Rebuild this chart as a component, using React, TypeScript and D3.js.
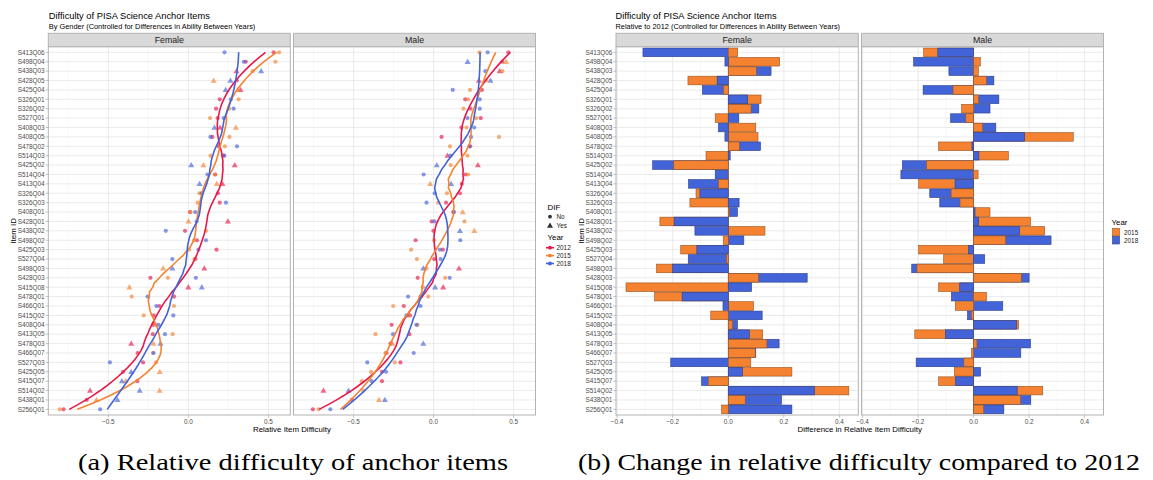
import React from "react";
import * as d3 from "d3";

// ---------------- DATA ----------------
const items = ["S413Q06","S498Q04","S438Q03","S428Q05","S425Q04","S326Q01","S326Q02","S527Q01","S408Q03","S408Q05","S478Q02","S514Q03","S425Q02","S514Q04","S413Q04","S326Q04","S326Q03","S408Q01","S428Q01","S438Q02","S498Q02","S425Q03","S527Q04","S498Q03","S428Q03","S415Q08","S478Q01","S466Q01","S415Q02","S408Q04","S413Q05","S478Q03","S466Q07","S527Q03","S425Q05","S415Q07","S514Q02","S438Q01","S256Q01"];
const genders = ["Female", "Male"];
const years = ["2012", "2015", "2018"];
const diffYears = ["2015", "2018"];

// Relative item difficulty in 2012
const female2012 = [0.533,0.359,0.301,0.303,0.326,0.196,0.173,0.183,0.198,0.150,0.188,0.218,0.290,0.167,0.213,0.185,0.196,0.010,0.247,-0.021,0.054,0.176,0.044,0.100,-0.237,0.0,-0.089,-0.181,-0.216,-0.220,-0.222,-0.357,-0.317,-0.283,-0.408,-0.319,-0.614,-0.635,-0.780];
const male2012 = [0.467,0.429,0.413,0.283,0.302,0.198,0.230,0.295,0.174,0.050,0.229,0.087,0.277,0.200,0.177,0.165,0.078,0.123,-0.012,-0.001,-0.112,0.058,0.004,0.159,-0.099,0.060,-0.079,-0.186,-0.147,-0.262,-0.151,-0.269,-0.294,-0.207,-0.322,-0.322,-0.688,-0.510,-0.754];

// Change relative to 2012
const femaleDiff2015 = [0.034,0.185,0.101,-0.145,-0.017,0.118,0.082,-0.047,0.099,0.107,0.040,-0.080,-0.196,0.001,-0.035,-0.116,-0.138,0.004,-0.246,0.132,-0.018,-0.171,-0.006,-0.258,0.109,-0.368,-0.265,0.091,-0.063,0.015,0.124,0.139,0.097,0.081,0.229,-0.072,0.434,0.061,-0.024];
const femaleDiff2018 = [-0.307,-0.012,0.154,-0.040,-0.093,0.070,0.110,0.038,-0.035,-0.012,0.116,0.007,-0.272,-0.047,-0.143,-0.102,0.039,0.033,-0.195,-0.120,0.056,-0.113,-0.144,-0.200,0.284,0.084,-0.166,-0.019,0.122,0.033,0.076,0.183,0.099,-0.207,0.051,-0.096,0.310,0.192,0.229];
const maleDiff2015 = [-0.180,0.024,0.017,0.046,-0.074,0.018,-0.043,-0.028,0.032,0.359,-0.126,0.125,-0.170,0.016,-0.198,-0.081,-0.049,0.059,0.205,0.256,0.115,-0.198,-0.108,-0.204,0.172,-0.126,0.046,-0.066,-0.008,0.162,-0.212,0.012,-0.007,-0.035,-0.069,-0.126,0.249,0.169,0.036];
const maleDiff2018 = [-0.129,-0.216,-0.089,0.073,-0.182,0.091,0.059,-0.083,0.080,0.184,-0.006,0.019,-0.257,-0.262,-0.067,-0.158,-0.122,0.005,0.018,0.166,0.279,-0.018,0.040,-0.223,0.200,-0.050,-0.080,0.105,-0.022,0.155,-0.102,0.205,0.170,-0.207,0.025,-0.065,0.157,0.206,0.109];

// Items flagged with DIF (triangles)
const femaleDif2012 = ["S438Q03","S425Q04","S408Q03","S425Q02","S413Q04","S428Q01","S498Q03","S415Q08","S478Q03","S514Q02"];
const femaleDif2015 = ["S428Q05","S425Q04","S408Q03","S425Q02","S413Q04","S428Q01","S498Q03","S415Q08","S478Q03","S425Q05","S415Q07","S514Q02","S438Q01"];
const femaleDif2018 = ["S438Q03","S428Q05","S425Q04","S408Q03","S425Q02","S413Q04","S498Q03","S415Q08","S478Q03","S425Q05","S415Q07","S514Q02","S438Q01"];
const maleDif2012 = ["S438Q03","S428Q05","S514Q03","S425Q02","S498Q03","S415Q08","S514Q02"];
const maleDif2015 = ["S498Q04","S413Q04","S408Q01","S438Q02","S478Q03","S438Q01"];
const maleDif2018 = ["S498Q04","S428Q05","S425Q02","S413Q04","S438Q02","S498Q03","S415Q08","S478Q03","S438Q01","S514Q02"];

const leftTicks = [-0.5, 0.0, 0.5];
const leftMinor = [-0.75, -0.25, 0.25];
const rightTicks = [-0.4, -0.2, 0.0, 0.2, 0.4];
const rightMinor = [-0.3, -0.1, 0.1, 0.3];

const yearColors: Record<string, string> = { "2012": "#E6194B", "2015": "#F58231", "2018": "#4363D8" };

// ---------------- HELPERS ----------------
const baseByGender: Record<string, number[]> = { Female: female2012, Male: male2012 };
const diffByGender: Record<string, Record<string, number[]>> = {
  Female: { "2015": femaleDiff2015, "2018": femaleDiff2018 },
  Male: { "2015": maleDiff2015, "2018": maleDiff2018 },
};
const difByGender: Record<string, Record<string, string[]>> = {
  Female: { "2012": femaleDif2012, "2015": femaleDif2015, "2018": femaleDif2018 },
  Male: { "2012": maleDif2012, "2015": maleDif2015, "2018": maleDif2018 },
};

function valuesFor(g: string, y: string): number[] {
  const base = baseByGender[g];
  if (y === "2012") return base;
  const d = diffByGender[g][y];
  return base.map((b, i) => b + d[i]);
}

function loess(xs: number[], ys: number[], at: number[], span: number): number[] {
  const n = xs.length;
  const q = Math.floor(n * span);
  return at.map((x0) => {
    const d = xs.map((x) => Math.abs(x - x0));
    const h = [...d].sort((a, b) => a - b)[q - 1] * 1.0000001;
    const S = [0, 0, 0, 0, 0];
    const T = [0, 0, 0];
    for (let i = 0; i < n; i++) {
      const u = d[i] / h;
      if (u >= 1) continue;
      const w = Math.pow(1 - u * u * u, 3);
      const t = xs[i] - x0;
      let p = 1;
      for (let k = 0; k < 5; k++) {
        S[k] += w * p;
        if (k < 3) T[k] += w * p * ys[i];
        p *= t;
      }
    }
    const det = (m: number[][]) =>
      m[0][0] * (m[1][1] * m[2][2] - m[1][2] * m[2][1]) -
      m[0][1] * (m[1][0] * m[2][2] - m[1][2] * m[2][0]) +
      m[0][2] * (m[1][0] * m[2][1] - m[1][1] * m[2][0]);
    const A = [[S[0], S[1], S[2]], [S[1], S[2], S[3]], [S[2], S[3], S[4]]];
    const A0 = [[T[0], S[1], S[2]], [T[1], S[2], S[3]], [T[2], S[3], S[4]]];
    return det(A0) / det(A);
  });
}

// ---------------- LAYOUT ----------------
const FONT = "'Liberation Sans', Arial, Helvetica, sans-serif";
const SPAN = 0.42;
const Y_TOP = 46.7;
const Y_BOT = 415;
const STRIP_TOP = 33.3;
const yPos = d3.scalePoint<string>().domain(items).range([Y_TOP, Y_BOT]).padding(0.6);
const step = yPos.step();
const levelY = d3
  .scaleLinear()
  .domain([items.length, 1])
  .range([yPos(items[0]) as number, yPos(items[items.length - 1]) as number]);

const leftPanels = [
  { g: "Female", x0: 48.3, x1: 290.3 },
  { g: "Male", x0: 293.5, x1: 535.5 },
];
const rightPanels = [
  { g: "Female", x0: 616, x1: 858.3 },
  { g: "Male", x0: 861.5, x1: 1103.5 },
];
const LEFT_DOMAIN: [number, number] = [-0.875, 0.637];
const RIGHT_DOMAIN: [number, number] = [-0.404, 0.468];

const GRID = "#e3e3e3";
const GRID_MINOR = "#f0f0f0";
const BORDER = "#b3b3b3";
const TICK_TXT = "#4d4d4d";

function Strip({ x0, x1, label }: { x0: number; x1: number; label: string }) {
  return (
    <g>
      <rect x={x0} y={STRIP_TOP} width={x1 - x0} height={Y_TOP - STRIP_TOP} fill="#d9d9d9" stroke={BORDER} strokeWidth={1} />
      <text x={(x0 + x1) / 2} y={(STRIP_TOP + Y_TOP) / 2 + 3.1} textAnchor="middle" fontSize={8.8} fill="#1a1a1a" fontFamily={FONT}>
        {label}
      </text>
    </g>
  );
}

function PanelFrame({ x0, x1, major, minor, xs }: { x0: number; x1: number; major: number[]; minor: number[]; xs: d3.ScaleLinear<number, number> }) {
  return (
    <g>
      <rect x={x0} y={Y_TOP} width={x1 - x0} height={Y_BOT - Y_TOP} fill="#ffffff" />
      {minor.map((v) => (
        <line key={"mn" + v} x1={xs(v)} x2={xs(v)} y1={Y_TOP} y2={Y_BOT} stroke={GRID_MINOR} strokeWidth={0.5} />
      ))}
      {major.map((v) => (
        <line key={"mj" + v} x1={xs(v)} x2={xs(v)} y1={Y_TOP} y2={Y_BOT} stroke={GRID} strokeWidth={0.7} />
      ))}
      {items.map((it) => (
        <line key={"h" + it} x1={x0} x2={x1} y1={yPos(it)} y2={yPos(it)} stroke={GRID} strokeWidth={0.7} />
      ))}
    </g>
  );
}

function XAxis({ xs, ticks }: { xs: d3.ScaleLinear<number, number>; ticks: number[] }) {
  return (
    <g>
      {ticks.map((v) => (
        <g key={"xt" + v}>
          <line x1={xs(v)} x2={xs(v)} y1={Y_BOT} y2={Y_BOT + 2.7} stroke={BORDER} strokeWidth={0.8} />
          <text x={xs(v)} y={Y_BOT + 9.3} textAnchor="middle" fontSize={6.4} fill={TICK_TXT} fontFamily={FONT}>
            {d3.format(".1f")(v)}
          </text>
        </g>
      ))}
    </g>
  );
}

function YAxis({ x }: { x: number }) {
  return (
    <g>
      {items.map((it) => (
        <g key={"yt" + it}>
          <line x1={x - 2.7} x2={x} y1={yPos(it)} y2={yPos(it)} stroke={BORDER} strokeWidth={0.8} />
          <text x={x - 3.6} y={(yPos(it) as number) + 2.3} textAnchor="end" fontSize={6.4} fill={TICK_TXT} fontFamily={FONT}>
            {it}
          </text>
        </g>
      ))}
    </g>
  );
}

const triPath = d3.symbol().type(d3.symbolTriangle).size(16)() as string;

function LeftPanel({ g, x0, x1 }: { g: string; x0: number; x1: number }) {
  const xs = d3.scaleLinear().domain(LEFT_DOMAIN).range([x0, x1]);
  const levels = items.map((_, i) => items.length - i);
  const evalAt = d3.range(80).map((k) => 1 + (k * (items.length - 1)) / 79);
  const line = d3
    .line<[number, number]>()
    .x((d) => xs(d[1]))
    .y((d) => levelY(d[0]))
    .curve(d3.curveLinear);
  return (
    <g>
      <PanelFrame x0={x0} x1={x1} major={leftTicks} minor={leftMinor} xs={xs} />
      {years.map((y) => {
        const vals = valuesFor(g, y);
        const dif = new Set(difByGender[g][y]);
        return (
          <g key={"pts" + y} fill={yearColors[y]} fillOpacity={0.65}>
            {items.map((it, i) =>
              dif.has(it) ? (
                <path key={it} d={triPath} transform={`translate(${xs(vals[i])},${(yPos(it) as number) + 0.4})`} />
              ) : (
                <circle key={it} cx={xs(vals[i])} cy={yPos(it)} r={2.1} />
              )
            )}
          </g>
        );
      })}
      {years.map((y) => {
        const vals = valuesFor(g, y);
        const fit = loess(levels, vals, evalAt, SPAN);
        const pts = evalAt.map((l, k) => [l, fit[k]] as [number, number]);
        return <path key={"ln" + y} d={line(pts) as string} fill="none" stroke={yearColors[y]} strokeWidth={1.6} />;
      })}
      <rect x={x0} y={Y_TOP} width={x1 - x0} height={Y_BOT - Y_TOP} fill="none" stroke={BORDER} strokeWidth={1} />
      <Strip x0={x0} x1={x1} label={g} />
      <XAxis xs={xs} ticks={leftTicks} />
    </g>
  );
}

function RightPanel({ g, x0, x1 }: { g: string; x0: number; x1: number }) {
  const xs = d3.scaleLinear().domain(RIGHT_DOMAIN).range([x0, x1]);
  const bh = step * 0.92;
  return (
    <g>
      <PanelFrame x0={x0} x1={x1} major={rightTicks} minor={rightMinor} xs={xs} />
      {items.map((it, i) => {
        const bars = diffYears
          .map((y) => ({ y, v: diffByGender[g][y][i] }))
          .sort((a, b) => Math.abs(b.v) - Math.abs(a.v));
        return (
          <g key={"b" + it}>
            {bars.map((b) => {
              const xa = xs(Math.min(0, b.v));
              const xb = xs(Math.max(0, b.v));
              const c = d3.color(yearColors[b.y])!.darker(1.3).formatHex();
              return (
                <rect
                  key={b.y}
                  x={xa}
                  y={(yPos(it) as number) - bh / 2}
                  width={Math.max(0.3, xb - xa)}
                  height={bh}
                  fill={yearColors[b.y]}
                  stroke={c}
                  strokeWidth={0.6}
                />
              );
            })}
          </g>
        );
      })}
      <rect x={x0} y={Y_TOP} width={x1 - x0} height={Y_BOT - Y_TOP} fill="none" stroke={BORDER} strokeWidth={1} />
      <Strip x0={x0} x1={x1} label={g} />
      <XAxis xs={xs} ticks={rightTicks} />
    </g>
  );
}

function Titles({ x, sub }: { x: number; sub: string }) {
  return (
    <g fontFamily={FONT}>
      <text x={x} y={18.6} fontSize={9.3} fill="#000">Difficulty of PISA Science Anchor Items</text>
      <text x={x} y={28.6} fontSize={7.4} fill="#000">{sub}</text>
    </g>
  );
}

export default function App() {
  return (
    <svg width={1153} height={480} style={{ position: "absolute", left: 0, top: 0, background: "#fff" }} xmlns="http://www.w3.org/2000/svg">
      <rect width={1153} height={480} fill="#fff" />
      {/* Left chart */}
      <Titles x={48.8} sub="By Gender (Controlled for Differences in Ability Between Years)" />
      {leftPanels.map((p) => (
        <LeftPanel key={p.g} {...p} />
      ))}
      <YAxis x={48.3} />
      <text x={(48.3 + 535.5) / 2} y={431.5} textAnchor="middle" fontSize={7.9} fontFamily={FONT}>Relative Item Difficulty</text>
      <text transform={`translate(15.5,${(Y_TOP + Y_BOT) / 2}) rotate(-90)`} textAnchor="middle" fontSize={7.9} fontFamily={FONT}>Item ID</text>
      {/* Left legend */}
      <g fontFamily={FONT}>
        <text x={547.5} y={209.5} fontSize={7.9}>DIF</text>
        <circle cx={550} cy={216.7} r={1.9} fill="#333" />
        <text x={556.5} y={219} fontSize={6.4} fill="#1a1a1a">No</text>
        <path d={triPath} transform="translate(550,226)" fill="#333" />
        <text x={556.5} y={228} fontSize={6.4} fill="#1a1a1a">Yes</text>
        <text x={547.5} y={239.5} fontSize={7.9}>Year</text>
        {years.map((y, i) => (
          <g key={"lg" + y}>
            <line x1={546} x2={554} y1={247.7 + i * 7.9} y2={247.7 + i * 7.9} stroke={yearColors[y]} strokeWidth={1.6} />
            <circle cx={550} cy={247.7 + i * 7.9} r={1.9} fill={yearColors[y]} />
            <text x={556.5} y={250 + i * 7.9} fontSize={6.4} fill="#1a1a1a">{y}</text>
          </g>
        ))}
      </g>

      {/* Right chart */}
      <Titles x={615.5} sub="Relative to 2012 (Controlled for Differences in Ability Between Years)" />
      {rightPanels.map((p) => (
        <RightPanel key={p.g} {...p} />
      ))}
      <YAxis x={616} />
      <text x={(616 + 1103.5) / 2} y={431.5} textAnchor="middle" fontSize={7.9} fontFamily={FONT}>Difference in Relative Item Difficulty</text>
      <text transform={`translate(583.5,${(Y_TOP + Y_BOT) / 2}) rotate(-90)`} textAnchor="middle" fontSize={7.9} fontFamily={FONT}>Item ID</text>
      <g fontFamily={FONT}>
        <text x={1111.5} y={224.5} fontSize={7.9}>Year</text>
        {diffYears.map((y, i) => (
          <g key={"rl" + y}>
            <rect x={1112.5} y={228.5 + i * 8} width={7} height={7.5} fill={yearColors[y]} stroke={d3.color(yearColors[y])!.darker(1.3).formatHex()} strokeWidth={0.6} />
            <text x={1124} y={234.7 + i * 8} fontSize={6.4} fill="#1a1a1a">{y}</text>
          </g>
        ))}
      </g>

      {/* Captions */}
      <g fontFamily="'Liberation Serif', 'DejaVu Serif', serif" fontSize={23} fill="#000">
        <text x={78} y={470} textLength={430} lengthAdjust="spacingAndGlyphs">(a) Relative difficulty of anchor items</text>
        <text x={578} y={470} textLength={562} lengthAdjust="spacingAndGlyphs">(b) Change in relative difficulty compared to 2012</text>
      </g>
    </svg>
  );
}
